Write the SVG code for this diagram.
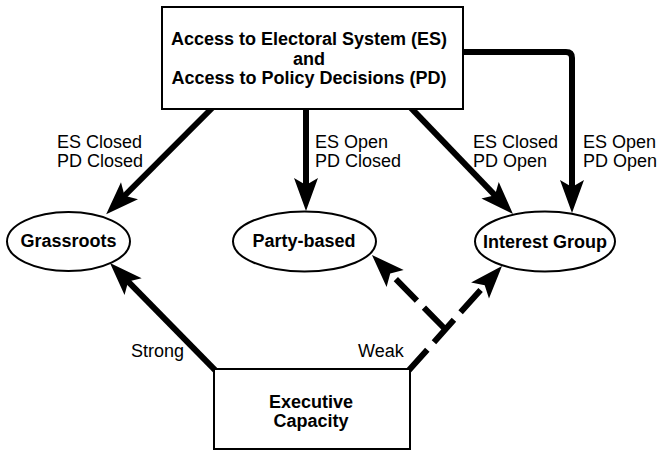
<svg xmlns="http://www.w3.org/2000/svg" width="657" height="452" viewBox="0 0 657 452">
<style>
.box{fill:#fff;stroke:#000;stroke-width:2}
.lbl{font-family:"Liberation Sans",Arial,sans-serif;font-size:18px;font-weight:bold;fill:#000;text-anchor:middle}
.cond{font-family:"Liberation Sans",Arial,sans-serif;font-size:18px;fill:#000}
.edge{fill:none;stroke:#000;stroke-width:6;marker-end:url(#ah)}
.dash{stroke-dasharray:30 10}
</style>
<defs>
<marker id="ah" markerUnits="userSpaceOnUse" viewBox="-15 -14 37 28" refX="0" refY="0" markerWidth="37" markerHeight="28" orient="auto" overflow="visible">
<path d="M20,0 L-13,-12 L-6,0 L-13,12 Z" fill="#000"/>
</marker>
</defs>
<rect width="657" height="452" fill="#fff"/>
<g id="connectors">
<line class="edge" x1="214.6" y1="105.5" x2="120.3" y2="200"/>
<line class="edge" x1="306" y1="100" x2="306" y2="191"/>
<line class="edge" x1="408.5" y1="105.4" x2="499.1" y2="199.6"/>
<path class="edge" d="M458,52 H566 Q572,52 572,58 V193"/>
<line class="edge" x1="216.8" y1="371.9" x2="124" y2="277.3"/>
<line class="edge dash" x1="407.3" y1="372" x2="488.7" y2="280.9"/>
<line class="edge dash" x1="445" y1="329" x2="386" y2="269.2"/>
</g>
<g id="access">
<rect class="box" x="162" y="7" width="301" height="102"/>
<text class="lbl" x="309" y="45">Access to Electoral System (ES)</text>
<text class="lbl" x="309" y="64.5">and</text>
<text class="lbl" x="309" y="84">Access to Policy Decisions (PD)</text>
</g>
<g id="grassroots">
<ellipse class="box" cx="68.5" cy="241.5" rx="61.5" ry="29.5"/>
<text class="lbl" x="68.5" y="247">Grassroots</text>
</g>
<g id="party">
<ellipse class="box" cx="304.5" cy="241.5" rx="71.5" ry="30"/>
<text class="lbl" x="304" y="247">Party-based</text>
</g>
<g id="interest">
<ellipse class="box" cx="545" cy="241.5" rx="70" ry="30"/>
<text class="lbl" x="545" y="248">Interest Group</text>
</g>
<g id="executive">
<rect class="box" x="214" y="369" width="196" height="80"/>
<text class="lbl" x="311" y="408">Executive</text>
<text class="lbl" x="311" y="427">Capacity</text>
</g>
<g id="labels">
<text class="cond" x="57" y="148">ES Closed</text>
<text class="cond" x="57" y="167">PD Closed</text>
<text class="cond" x="315" y="148">ES Open</text>
<text class="cond" x="315" y="167">PD Closed</text>
<text class="cond" x="473" y="148">ES Closed</text>
<text class="cond" x="473" y="167">PD Open</text>
<text class="cond" x="583" y="148">ES Open</text>
<text class="cond" x="583" y="167">PD Open</text>
<text class="cond" x="131" y="357">Strong</text>
<text class="cond" x="358" y="357">Weak</text>
</g>
</svg>
